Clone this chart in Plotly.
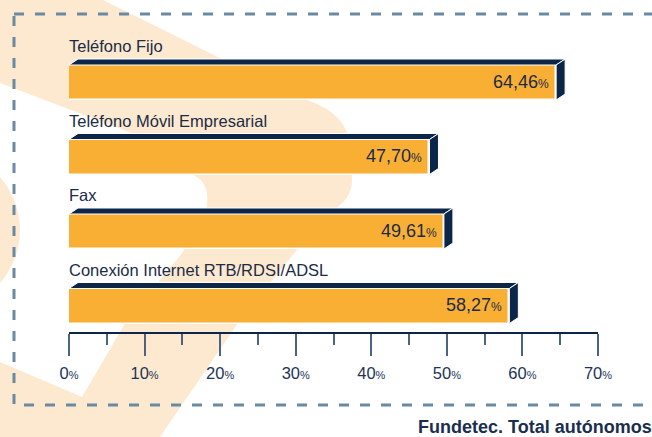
import plotly.graph_objects as go

# ---- data ----
categories = ["Teléfono Fijo", "Teléfono Móvil Empresarial", "Fax", "Conexión Internet RTB/RDSI/ADSL"]
values = [64.46, 47.70, 49.61, 58.27]
tick_values = [0, 10, 20, 30, 40, 50, 60, 70]
footer = "Fundetec. Total autónomos"

# ---- styling ----
W, H = 652, 437
ORANGE = "#f9af34"
NAVY = "#0c2649"
TEXT = "#1b2b48"
PEACH = "#fde9cf"
DASH = "#6a8aa3"
FONT = "Liberation Sans, Arial, sans-serif"

X0_PX, X1_PX = 69, 598          # pixel span of 0..70 %
XMAX = 70
AXIS_Y_PX = 333
ROW0_PX, ROW_STEP = 82.5, 74.5  # first bar centre, spacing (px)
BAR_W = 35 / ROW_STEP
DX = 9 * XMAX / (X1_PX - X0_PX)  # depth offsets in data units
DY = 6 / ROW_STEP


def px(x):
    return x / W


def py(y):
    return 1 - y / H


def path_px(cmds):
    out = []
    for c in cmds:
        if isinstance(c, str):
            out.append(c)
        else:
            out.append(f"{px(c[0]):.5f},{py(c[1]):.5f}")
    return " ".join(out)


idx = list(range(len(categories)))

fig = go.Figure()

# front faces of the bars
fig.add_trace(go.Bar(
    x=values, y=idx, orientation="h", width=BAR_W,
    marker=dict(color=ORANGE, line=dict(color="white", width=1.5)),
    hoverinfo="skip", showlegend=False,
))

# 3D top and side faces derived from the values
h = BAR_W / 2
for i, v in zip(idx, values):
    fig.add_trace(go.Scatter(
        x=[0, v, v + DX, DX, 0], y=[i - h, i - h, i - h - DY, i - h - DY, i - h],
        mode="lines", fill="toself", fillcolor=NAVY,
        line=dict(color="white", width=1), hoverinfo="skip", showlegend=False,
    ))
    fig.add_trace(go.Scatter(
        x=[v, v + DX, v + DX, v, v], y=[i - h, i - h - DY, i + h - DY, i + h, i - h],
        mode="lines", fill="toself", fillcolor=NAVY,
        line=dict(color="white", width=1), hoverinfo="skip", showlegend=False,
    ))

annotations = []
for i, (c, v) in enumerate(zip(categories, values)):
    annotations.append(dict(
        x=0, y=i - 0.49, xref="x", yref="y", text=c, showarrow=False,
        xanchor="left", yanchor="middle", xshift=-2,
        font=dict(family=FONT, size=16.5, color=TEXT),
    ))
    lbl = f"{v:.2f}".replace(".", ",")
    annotations.append(dict(
        x=v, y=i, xref="x", yref="y",
        text=f"{lbl}<span style='font-size:12px'>%</span>", showarrow=False,
        xanchor="right", yanchor="middle", xshift=-5, yshift=1,
        font=dict(family=FONT, size=18, color=TEXT),
    ))

annotations.append(dict(
    x=px(417), y=py(426.5), xref="paper", yref="paper", text=f"<b>{footer}</b>",
    showarrow=False, xanchor="left", yanchor="middle", borderpad=0,
    font=dict(family=FONT, size=18, color="#1a2e4f"),
))

# background watermark and dashed frame
shapes = [
    dict(type="path", xref="paper", yref="paper", layer="below", line=dict(width=0), fillcolor=PEACH,
         path=path_px(["M", (0, 0), "L", (103, 0), "L", (300, 98), "C", (335, 108), (350, 125), (350, 150),
                       "L", (352, 180), "C", (352, 196), (342, 206), (326, 214), "L", (240, 320),
                       "L", (160, 437), "L", (0, 437), "L", (0, 362), "L", (82, 397), "L", (127, 320),
                       "L", (183, 252), "L", (206, 210), "C", (210, 192), (205, 181), (195, 176),
                       "L", (150, 140), "L", (0, 83), "Z"])),
    dict(type="circle", xref="paper", yref="paper", layer="below", line=dict(width=0), fillcolor=PEACH,
         x0=px(-140), x1=px(20), y0=py(150), y1=py(310)),
    dict(type="rect", xref="paper", yref="paper", layer="below",
         x0=px(14), x1=px(700), y0=py(14), y1=py(405),
         line=dict(color=DASH, width=3, dash="10px,11px"), fillcolor="rgba(0,0,0,0)"),
]

tick_text = [f"{t}<span style='font-size:11px'>%</span>" for t in tick_values]

fig.update_layout(
    template="none",
    width=W, height=H, autosize=False,
    margin=dict(l=0, r=0, t=0, b=0, pad=0),
    paper_bgcolor="white", plot_bgcolor="rgba(0,0,0,0)",
    showlegend=False, bargap=0,
    shapes=shapes, annotations=annotations,
    xaxis=dict(
        domain=[px(X0_PX), px(X1_PX)], range=[0, XMAX], anchor="free", position=py(AXIS_Y_PX),
        automargin=False,
        showgrid=False, zeroline=False, showline=True, linecolor=NAVY, linewidth=2,
        tickmode="array", tickvals=tick_values, ticktext=tick_text,
        ticks="outside", ticklen=22, tickwidth=1.5, tickcolor="#4d6480",
        minor=dict(dtick=5, tick0=0, ticks="outside", ticklen=11, tickwidth=1.5, tickcolor="#4d6480", showgrid=False),
        tickfont=dict(family=FONT, size=16.5, color="#1d3458"),
        ticklabelstandoff=3,
    ),
    yaxis=dict(
        domain=[0, 1], range=[(H - ROW0_PX) / ROW_STEP, -ROW0_PX / ROW_STEP], automargin=False,
        showgrid=False, zeroline=False, showline=False, showticklabels=False, ticks="",
    ),
)

fig.write_html(
    "out.html",
    config={"displayModeBar": False},
    post_script="document.body.style.margin='0px';document.body.style.overflow='hidden';",
)
